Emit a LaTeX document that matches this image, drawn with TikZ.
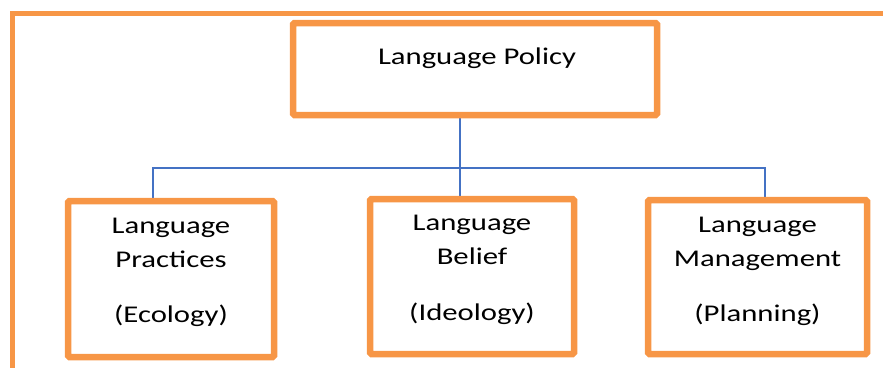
\documentclass[tikz,border=0pt]{standalone}
\usepackage{fontspec}
\setmainfont{Carlito}[FakeStretch=1.28]
\usetikzlibrary{positioning,backgrounds}
\definecolor{boxorange}{HTML}{F79646}
\definecolor{linkblue}{HTML}{4472C4}
\tikzset{
  box/.style={draw=boxorange, line width=6.5pt, rounded corners=1.5pt, inner sep=0pt},
  lbl/.style={align=center, inner sep=0pt, font=\fontsize{24}{34}\selectfont},
  link/.style={draw=linkblue, line width=1.8pt}
}
\begin{document}
\begin{tikzpicture}[x=1pt, y=-1pt]
\useasboundingbox (0,0) rectangle (883,367);
\draw[boxorange, line width=5pt] (12.5,375) -- (12.5,13) -- (890,13);
\node[box, minimum width=364pt, minimum height=92pt] (policy) at (475,69) {};
\node[box, minimum width=206pt, minimum height=156pt] (prac) at (171,279) {};
\node[box, minimum width=204pt, minimum height=155pt] (belief) at (472,276.5) {};
\node[box, minimum width=219pt, minimum height=154pt] (mgmt) at (757.5,277) {};
\node[lbl, below=28pt of policy.north, xshift=2pt] (policytxt) {Language Policy};
\node[lbl, below=20.5pt of prac.north] (practxt) {Language\\Practices\\[21pt](Ecology)};
\node[lbl, below=19.5pt of belief.north] (belieftxt) {Language\\Belief\\[22pt](Ideology)};
\node[lbl, below=20.5pt of mgmt.north] (mgmttxt) {Language\\Management\\[21pt](Planning)};
\coordinate (bus) at (460,168);
\coordinate (busl) at (153,168);
\coordinate (busr) at (765,168);
\begin{scope}[on background layer]
\draw[link] (policy.south -| bus) -- (belief.north -| bus);
\draw[link] (prac.north -| busl) -- (busl) -- (busr) -- (mgmt.north -| busr);
\end{scope}
\end{tikzpicture}
\end{document}
